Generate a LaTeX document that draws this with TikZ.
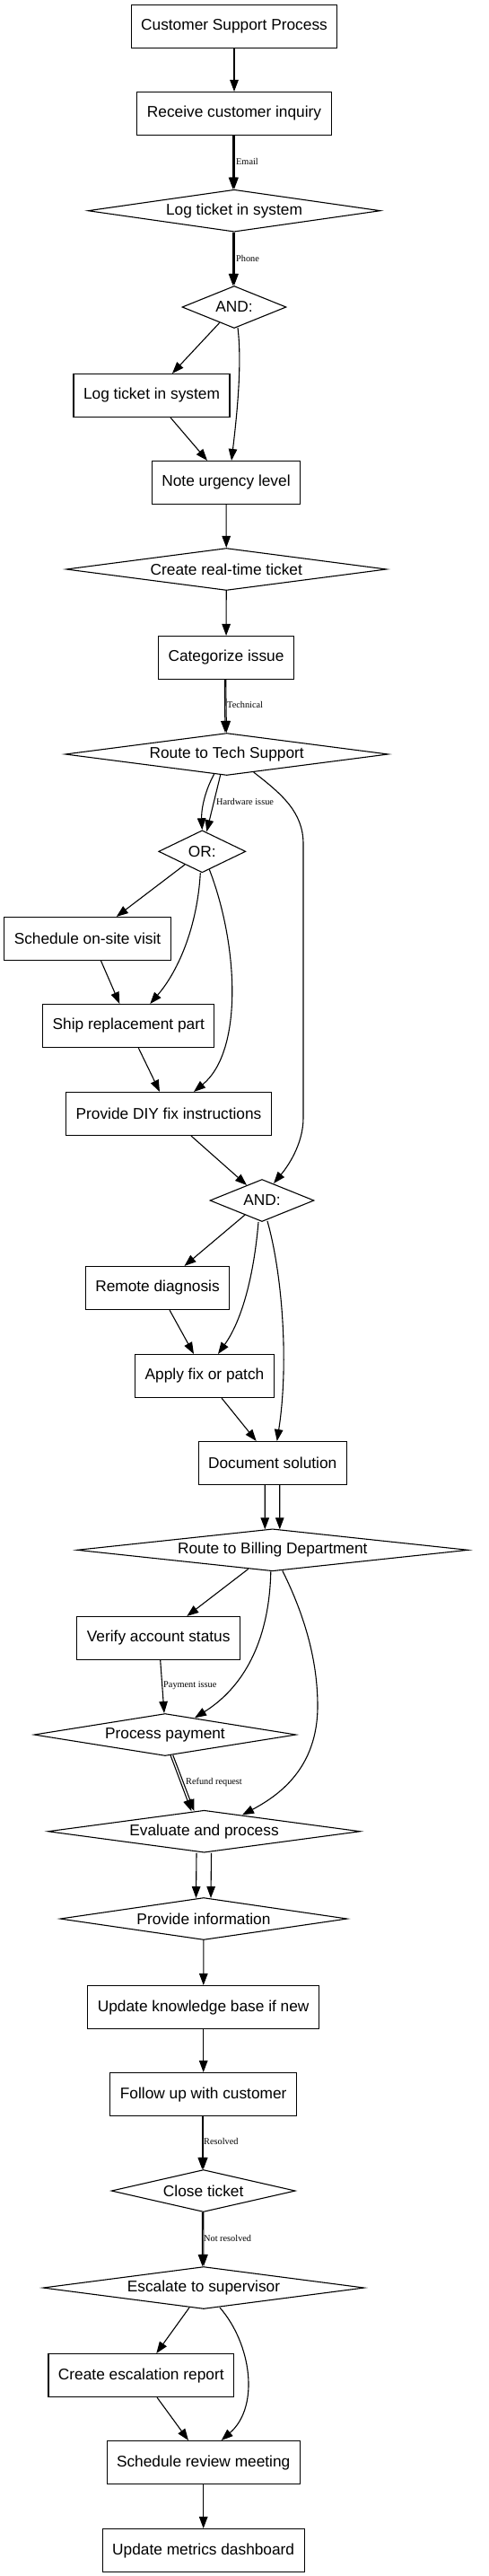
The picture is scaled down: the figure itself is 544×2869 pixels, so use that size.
\documentclass[tikz,border=0pt]{standalone}
\usepackage{fontspec}
\setmainfont{Liberation Sans}
\newfontfamily\lblfont{Liberation Serif}
\usetikzlibrary{arrows.meta,shapes.geometric,calc}
\newcommand{\dtx}[1]{\makebox[0pt]{#1}}
\begin{document}
\begin{tikzpicture}[x=1pt,y=-1pt,
  box/.style={draw, line width=1.1pt, rectangle, minimum height=48pt, inner xsep=11pt, inner ysep=0pt, font=\fontsize{17.3pt}{20pt}\selectfont},
  dia/.style={draw, line width=1.1pt, diamond, inner sep=0pt, minimum height=47pt, font=\fontsize{17.3pt}{20pt}\selectfont},
  arr/.style={-{Triangle[length=13pt,width=9.5pt]}, line width=1.1pt},
  elab/.style={font=\lblfont\fontsize{10.3pt}{12pt}\selectfont, anchor=west, inner sep=0pt}]
\fill[white] (0,0) rectangle (544,2869);
\useasboundingbox (0,0) rectangle (544,2869);

\node[box] (title) at (261,29.5) {Customer Support Process};
\node[box] (recv) at (261,126.5) {Receive customer inquiry};
\node[dia, minimum width=326pt] (logd) at (261,234.7) {\dtx{Log ticket in system}};
\node[dia, minimum width=116pt] (and1) at (261,342) {\dtx{AND:}};
\node[box] (logb) at (169,440.5) {Log ticket in system};
\node[box] (note) at (252,537.5) {Note urgency level};
\node[dia, minimum width=357pt] (create) at (252.3,634) {\dtx{Create real-time ticket}};
\node[box] (categ) at (252,732.5) {Categorize issue};
\node[dia, minimum width=360pt] (rtech) at (252.7,840) {\dtx{Route to Tech Support}};
\node[dia, minimum width=97pt] (or1) at (225.3,948.3) {\dtx{OR:}};
\node[box] (sched) at (97.5,1045.5) {Schedule on-site visit};
\node[box] (ship) at (143.3,1142.5) {Ship replacement part};
\node[box] (diy) at (188,1240.5) {Provide DIY fix instructions};
\node[dia, minimum width=116pt] (and2) at (292,1337) {\dtx{AND:}};
\node[box] (remote) at (175.5,1434.5) {Remote diagnosis};
\node[box] (apply) at (228,1532.5) {Apply fix or patch};
\node[box] (doc) at (303.7,1629.5) {Document solution};
\node[dia, minimum width=436pt] (rbill) at (303.8,1726.3) {\dtx{Route to Billing Department}};
\node[box] (verify) at (176.7,1824.5) {Verify account status};
\node[dia, minimum width=292pt] (pay) at (184,1932) {\dtx{Process payment}};
\node[dia, minimum width=348pt] (eval) at (227.5,2039.7) {\dtx{Evaluate and process}};
\node[dia, minimum width=320pt] (info) at (227,2137) {\dtx{Provide information}};
\node[box] (kb) at (226.7,2235.5) {Update knowledge base if new};
\node[box] (follow) at (226.7,2332.5) {Follow up with customer};
\node[dia, minimum width=205pt] (close) at (226.7,2440) {\dtx{Close ticket}};
\node[dia, minimum width=358pt] (esc) at (227,2548) {\dtx{Escalate to supervisor}};
\node[box] (report) at (157.3,2645.5) {Create escalation report};
\node[box] (review) at (226.7,2742.5) {Schedule review meeting};
\node[box] (metrics) at (226.7,2840.5) {Update metrics dashboard};

% edges
\draw[arr] (title) -- (recv);
\draw[arr] ($(recv.south)+(-1.4,0)$) -- ($(logd.north)+(-1.4,0)$);
\draw[arr] ($(recv.south)+(0,0)$) -- ($(logd.north)+(0,0)$);
\node[elab] (lEmail) at (263,180) {Email};
\draw[arr] ($(logd.south)+(-1.4,0)$) -- ($(and1.north)+(-1.4,0)$);
\draw[arr] ($(logd.south)+(0,0)$) -- ($(and1.north)+(0,0)$);
\node[elab] (lPhone) at (263,288) {Phone};
\draw[arr] (and1) -- (logb);
\draw[arr] ($(and1.south)+(4,-1)$) .. controls +(5,40) and +(6,-50) .. ($(note.north)+(6,0)$);
\draw[arr] (logb) -- (note);
\draw[arr] (note) -- (create);
\draw[arr] (create) -- (categ);
\draw[arr] ($(categ.south)+(-1.7,0)$) -- ($(rtech.north)+(-1.7,0)$);
\draw[arr] ($(categ.south)+(-0.3,0)$) -- ($(rtech.north)+(-0.3,0)$);
\node[elab] (lTech) at (253,785) {Technical};
\draw[arr] ($(rtech.south)+(-14,-2)$) .. controls +(-12,22) and +(-1,-20) .. ($(or1.north)+(0,0)$);
\draw[arr] ($(rtech.south)+(-7,-1)$) -- ($(or1.north)+(5,2)$);
\node[elab] (lHw) at (241,893) {Hardware issue};
\draw[arr] ($(rtech.south)+(30,-4)$) .. controls (315,885) and (338,905) .. (338,940) -- (338,1245) .. controls (338,1275) and (320,1300) .. ($(and2.north)+(13,5)$);
\draw[arr] (or1) -- (sched);
\draw[arr] ($(or1.south)+(-2,0)$) .. controls (220,1030) and (200,1080) .. ($(ship.north)+(24,0)$);
\draw[arr] ($(or1.south)+(8,-4)$) .. controls (265,1050) and (272,1170) .. ($(diy.north)+(28,0)$);
\draw[arr] ($(sched.south)+(15,0)$) -- ($(ship.north)+(-10,0)$);
\draw[arr] ($(ship.south)+(11,0)$) -- ($(diy.north)+(-10,0)$);
\draw[arr] ($(diy.south)+(25,0)$) -- ($(and2.north)+(-17,7)$);
\draw[arr] ($(and2.south)+(-19,-8)$) -- ($(remote.north)+(30,0)$);
\draw[arr] ($(and2.south)+(-4,0)$) .. controls (283,1420) and (270,1470) .. ($(apply.north)+(15,0)$);
\draw[arr] ($(and2.south)+(6,-1)$) .. controls (315,1420) and (322,1520) .. ($(doc.north)+(5,0)$);
\draw[arr] ($(remote.south)+(13.5,0)$) -- ($(apply.north)+(-12,0)$);
\draw[arr] ($(apply.south)+(19,0)$) -- ($(doc.north)+(-18,0)$);
\draw[arr] ($(doc.south)+(-8.5,0)$) -- ($(rbill.north)+(-8.5,1)$);
\draw[arr] ($(doc.south)+(8,0)$) -- ($(rbill.north)+(8,1)$);
\draw[arr] ($(rbill.south)+(-27,-3)$) -- ($(verify.north)+(31.6,0)$);
\draw[arr] ($(rbill.south)+(-2,0)$) .. controls (300,1830) and (270,1880) .. ($(pay.north)+(33,5.3)$);
\draw[arr] ($(rbill.south)+(11,-1)$) .. controls (340,1800) and (354,1850) .. (354,1900) .. controls (354,1970) and (310,2000) .. ($(eval.north)+(42.5,5.7)$);
\draw[arr] ($(verify.south)+(2,0)$) -- ($(pay.north)+(-1,0)$);
\node[elab] (lPay) at (182,1877) {Payment issue};
\draw[arr] ($(pay.south)+(6,-1.2)$) -- ($(eval.north)+(-14,1.7)$);
\draw[arr] ($(pay.south)+(8.7,-1.4)$) -- ($(eval.north)+(-11,1.4)$);
\node[elab] (lRef) at (207,1985) {Refund request};
\draw[arr] ($(eval.south)+(-8.5,0)$) -- ($(info.north)+(-8.5,1)$);
\draw[arr] ($(eval.south)+(8,0)$) -- ($(info.north)+(8,1)$);
\draw[arr] (info) -- (kb);
\draw[arr] (kb) -- (follow);
\draw[arr] ($(follow.south)+(-1.4,0)$) -- ($(close.north)+(-1.4,0)$);
\draw[arr] ($(follow.south)+(0,0)$) -- ($(close.north)+(0,0)$);
\node[elab] (lRes) at (227,2385) {Resolved};
\draw[arr] ($(close.south)+(-1.4,0)$) -- ($(esc.north)+(-1.4,0)$);
\draw[arr] ($(close.south)+(0,0)$) -- ($(esc.north)+(0,0)$);
\node[elab] (lNot) at (227,2493) {Not resolved};
\draw[arr] ($(esc.south)+(-16,-2)$) -- ($(report.north)+(17,0)$);
\draw[arr] ($(esc.south)+(18,-2)$) .. controls (280,2610) and (290,2680) .. ($(review.north)+(20,0)$);
\draw[arr] ($(report.south)+(17.7,0)$) -- ($(review.north)+(-16.7,0)$);
\draw[arr] (review) -- (metrics);
\end{tikzpicture}
\end{document}
